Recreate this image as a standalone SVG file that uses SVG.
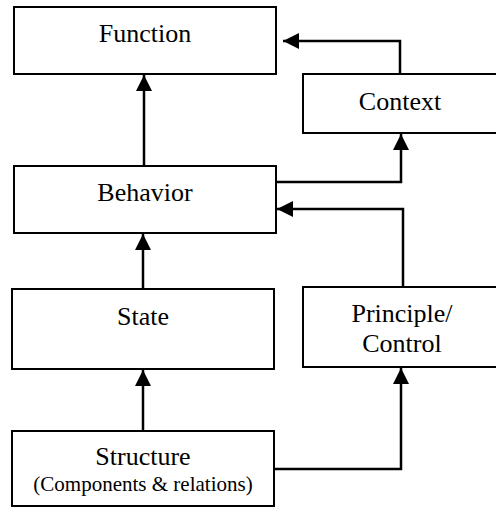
<svg xmlns="http://www.w3.org/2000/svg" width="496" height="508" viewBox="0 0 496 508" font-family="Liberation Serif, DejaVu Serif, serif">
  <style>
    .box { fill: #ffffff; stroke: #000000; stroke-width: 2; }
    .label { font-size: 26px; fill: #000000; text-anchor: middle; }
    .small { font-size: 21px; }
    .conn { fill: none; stroke: #000000; stroke-width: 2.5; }
  </style>
  <defs>
    <marker id="arrow" viewBox="0 0 16 16" refX="16" refY="8" markerWidth="16" markerHeight="16" markerUnits="userSpaceOnUse" orient="auto">
      <path d="M0,0 L16,8 L0,16 Z" fill="#000000"/>
    </marker>
  </defs>

  <rect width="496" height="508" fill="#ffffff"/>

  <g id="function">
    <rect class="box" x="14" y="7" width="262" height="67"/>
    <text class="label" x="145" y="42" font-family="Liberation Serif">Function</text>
  </g>

  <g id="context">
    <rect class="box" x="303" y="74" width="200" height="59"/>
    <text class="label" x="400" y="110" font-family="Liberation Serif">Context</text>
  </g>

  <g id="behavior">
    <rect class="box" x="14" y="166" width="262" height="67"/>
    <text class="label" x="145" y="201" font-family="Liberation Serif">Behavior</text>
  </g>

  <g id="state">
    <rect class="box" x="12" y="289" width="262" height="80"/>
    <text class="label" x="143" y="325" font-family="Liberation Serif">State</text>
  </g>

  <g id="principle-control">
    <rect class="box" x="303" y="287" width="200" height="80"/>
    <text class="label" x="402" y="322" font-family="Liberation Serif">Principle/</text>
    <text class="label" x="402" y="352" font-family="Liberation Serif">Control</text>
  </g>

  <g id="structure">
    <rect class="box" x="12" y="431" width="262" height="75"/>
    <text class="label" x="143" y="465" font-family="Liberation Serif">Structure</text>
    <text class="label small" x="143" y="491" font-family="Liberation Serif">(Components &amp; relations)</text>
  </g>

  <g id="connectors">
    <!-- Behavior to Function -->
    <path class="conn" d="M144,166 L144,75" marker-end="url(#arrow)"/>
    <!-- State to Behavior -->
    <path class="conn" d="M143,289 L143,234" marker-end="url(#arrow)"/>
    <!-- Structure to State -->
    <path class="conn" d="M143,431 L143,370" marker-end="url(#arrow)"/>
    <!-- Context to Function -->
    <path class="conn" d="M400,74 L400,41 L283,41" marker-end="url(#arrow)"/>
    <!-- Behavior to Context -->
    <path class="conn" d="M276,182 L401,182 L401,134" marker-end="url(#arrow)"/>
    <!-- Principle/Control to Behavior -->
    <path class="conn" d="M403,287 L403,209 L277,209" marker-end="url(#arrow)"/>
    <!-- Structure to Principle/Control -->
    <path class="conn" d="M274,469 L401,469 L401,368" marker-end="url(#arrow)"/>
  </g>
</svg>
